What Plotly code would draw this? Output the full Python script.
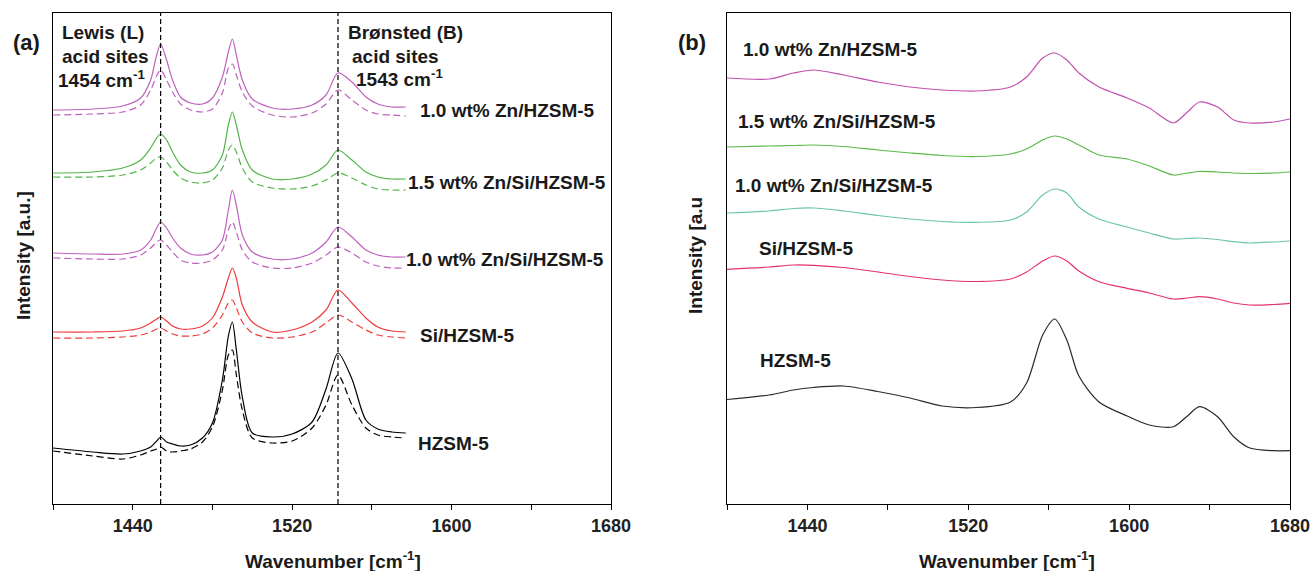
import plotly.graph_objects as go

W, H = 1312, 571
PLOT_TOP, PLOT_BOTTOM = 13, 504

# ---------------- Panel (a) data ----------------
wn_a = [1400, 1420, 1435, 1444, 1449, 1452, 1454, 1457, 1460, 1464, 1469, 1475, 1480, 1485, 1488,
        1490, 1492, 1495, 1500, 1510, 1520, 1530, 1537, 1543, 1550, 1557, 1563, 1570, 1577]
samples_a = ["1.0 wt% Zn/HZSM-5", "1.5 wt% Zn/Si/HZSM-5", "1.0 wt% Zn/Si/HZSM-5", "Si/HZSM-5", "HZSM-5"]

a_zn10_solid = [394, 395, 398, 406, 424, 449, 460, 444, 424, 407, 401, 400, 406, 427, 452,
                465, 449, 424, 405, 396, 395, 399, 409, 431, 422, 407, 400, 397, 397]
a_zn10_dash = [389, 390, 392, 399, 414, 428, 434, 424, 412, 400, 394, 392, 395, 411, 436,
               440, 429, 412, 398, 389, 387, 391, 400, 414, 404, 394, 390, 389, 388]
a_zn15si_solid = [331, 332, 336, 344, 356, 366, 370, 364, 352, 339, 332, 331, 334, 349, 379,
                  392, 379, 354, 334, 325, 325, 330, 339, 354, 344, 332, 327, 325, 325]
a_zn15si_dash = [327, 327, 329, 334, 341, 346, 347, 342, 334, 326, 322, 321, 324, 336, 354,
                 359, 352, 336, 322, 316, 315, 318, 324, 331, 326, 319, 315, 314, 314]
a_zn10si_solid = [251, 250, 250, 254, 264, 276, 282, 276, 266, 256, 250, 249, 252, 264, 294,
                  314, 299, 269, 252, 245, 245, 251, 262, 277, 267, 254, 249, 247, 247]
a_zn10si_dash = [246, 245, 245, 249, 256, 262, 264, 259, 252, 244, 241, 241, 244, 254, 274,
                 282, 272, 254, 242, 236, 236, 241, 249, 257, 251, 242, 238, 236, 236]
a_si_solid = [172, 172, 173, 176, 181, 185, 187, 183, 178, 175, 175, 178, 186, 207, 226,
              236, 226, 199, 182, 172, 174, 182, 194, 214, 201, 186, 177, 173, 172]
a_si_dash = [166, 166, 167, 169, 172, 175, 176, 173, 170, 168, 168, 170, 176, 189, 201,
             204, 196, 182, 171, 166, 167, 172, 181, 189, 182, 174, 169, 167, 166]
a_h_solid = [56, 52, 50, 53, 57, 63, 67, 62, 60, 58, 59, 66, 81, 124, 168,
             182, 154, 107, 71, 67, 70, 82, 115, 151, 125, 84, 75, 72, 71]
a_h_dash = [53, 48, 45, 49, 53, 55, 57, 53, 52, 53, 55, 62, 77, 114, 149,
            154, 129, 94, 66, 61, 63, 76, 99, 129, 99, 76, 69, 67, 66]

acid_site_positions = [1454, 1543]

# ---------------- Panel (b) data ----------------
wn_b = [1400, 1421, 1433, 1443, 1458, 1475, 1491, 1507, 1524, 1541, 1549, 1557, 1563,
        1569, 1575, 1585, 1599, 1610, 1622, 1629, 1635, 1644, 1652, 1660, 1672, 1680]
samples_b = ["1.0 wt% Zn/HZSM-5", "1.5 wt% Zn/Si/HZSM-5", "1.0 wt% Zn/Si/HZSM-5", "Si/HZSM-5", "HZSM-5"]
b_zn10 = [426, 425, 431, 434, 429, 422, 417, 414, 413, 417, 427, 446, 451,
          444, 431, 417, 406, 396, 381, 392, 402, 397, 384, 381, 382, 385]
b_zn15si = [357, 358, 358.5, 359, 357.5, 354, 351, 348.5, 347.5, 350, 355, 364, 368,
            365, 359, 349, 345, 338, 329, 331, 332.5, 332, 331, 330.5, 331, 332]
b_zn10si = [291, 293, 295.5, 296, 293, 288.5, 285, 282.5, 281.7, 284, 292, 309, 315,
            311, 297, 285, 277, 271, 265, 265.5, 266, 264.5, 262.3, 261, 262, 263]
b_si = [234.7, 237, 239, 238.7, 236.5, 232, 227.5, 224, 222.5, 225, 232, 243, 248,
        243, 233, 222.3, 215.7, 211, 205, 206, 207.3, 205, 201, 199, 199.5, 200.7]
b_h = [104.5, 109, 114, 116.5, 118, 112.5, 106, 98, 96.5, 102, 121, 169, 185,
       164, 128, 102, 88, 79, 77.3, 88, 97.3, 87.3, 67.3, 56, 53.3, 53.3]

colors_a = ["#BE62BE", "#52B548", "#BE62BE", "#EE3B3B", "#000000"]
colors_b = ["#C24FAE", "#5BBA4A", "#6CC6A6", "#E5336A", "#2A2A2A"]

FONT = "Liberation Sans, Arial, Helvetica, sans-serif"


def px(x):
    return x / W


def py(y):
    return (PLOT_BOTTOM - y) / (PLOT_BOTTOM - PLOT_TOP)


fig = go.Figure()

solids_a = [a_zn10_solid, a_zn15si_solid, a_zn10si_solid, a_si_solid, a_h_solid]
dashes_a = [a_zn10_dash, a_zn15si_dash, a_zn10si_dash, a_si_dash, a_h_dash]
for name, ys, yd, c in zip(samples_a, solids_a, dashes_a, colors_a):
    fig.add_trace(go.Scatter(x=wn_a, y=yd, mode="lines", name=name + " (dashed)",
                             line=dict(color=c, width=1.2, dash="7px,4px", shape="spline", smoothing=0.8),
                             xaxis="x", yaxis="y", showlegend=False, hoverinfo="skip"))
    fig.add_trace(go.Scatter(x=wn_a, y=ys, mode="lines", name=name,
                             line=dict(color=c, width=1.2, shape="spline", smoothing=0.8),
                             xaxis="x", yaxis="y", showlegend=False))

series_b = [b_zn10, b_zn15si, b_zn10si, b_si, b_h]
for name, ys, c in zip(samples_b, series_b, colors_b):
    fig.add_trace(go.Scatter(x=wn_b, y=ys, mode="lines", name=name,
                             line=dict(color=c, width=1.2, shape="spline", smoothing=0.8),
                             xaxis="x2", yaxis="y2", showlegend=False))

for xv in acid_site_positions:
    fig.add_shape(type="line", xref="x", yref="y domain", x0=xv, x1=xv, y0=0, y1=1,
                  line=dict(color="black", width=1.2, dash="5px,3px"))

xaxis_common = dict(range=[1400, 1680], tickvals=[1440, 1520, 1600, 1680],
                    ticks="outside", ticklen=5, tickwidth=1, tickcolor="black",
                    minor=dict(tickvals=[1400, 1480, 1560, 1640], ticks="outside", ticklen=5,
                               tickwidth=1, tickcolor="black"),
                    showline=True, linecolor="black", linewidth=1, mirror=True,
                    showgrid=False, zeroline=False, automargin=False,
                    tickfont=dict(family=FONT, size=18, color="#222", weight="bold"))
yaxis_common = dict(range=[0, PLOT_BOTTOM - PLOT_TOP], domain=[0, 1], showticklabels=False, ticks="",
                    showline=True, linecolor="black", linewidth=1, mirror=True,
                    showgrid=False, zeroline=False, automargin=False)

fig.update_layout(
    width=W, height=H, autosize=False,
    margin=dict(l=0, r=0, t=PLOT_TOP, b=H - PLOT_BOTTOM, pad=0, autoexpand=False),
    paper_bgcolor="white", plot_bgcolor="white",
    showlegend=False,
    xaxis=dict(domain=[px(53), px(611)], anchor="y", **xaxis_common),
    yaxis=dict(anchor="x", **yaxis_common),
    xaxis2=dict(domain=[px(727), px(1290)], anchor="y2", **xaxis_common),
    yaxis2=dict(anchor="x2", **yaxis_common),
)

def label(text, x, y, size=19, xanchor="left", angle=0, color="#1a1a1a"):
    fig.add_annotation(text=text, xref="paper", yref="paper", x=px(x), y=py(y),
                       xanchor=xanchor, yanchor="middle", showarrow=False, textangle=angle,
                       font=dict(family=FONT, size=size, color=color, weight="bold"))

# Panel (a) labels
label_pos_a = [(418, 110), (406, 183), (404, 259), (418, 335), (416, 443)]
for name, (x, y) in zip(samples_a, label_pos_a):
    label(name, x, y)
label("Lewis (L)", 60, 33)
label("acid sites", 60, 57)
label("1454 cm<sup>-1</sup>", 56, 79)
label("Brønsted (B)", 346, 33)
label("acid sites", 350, 57)
label("1543 cm<sup>-1</sup>", 354, 78)
label("(a)", 26, 42, size=22, xanchor="center")
label("Intensity [a.u.]", 23, 256, xanchor="center", angle=-90)
label("Wavenumber [cm<sup>-1</sup>]", 333, 560, xanchor="center")

# Panel (b) labels
label_pos_b = [(741, 50), (736, 122), (733, 185), (757, 248), (758, 360)]
for name, (x, y) in zip(samples_b, label_pos_b):
    label(name, x, y)
label("(b)", 692, 42, size=22, xanchor="center")
label("Intensity [a.u", 695, 256, xanchor="center", angle=-90)
label("Wavenumber [cm<sup>-1</sup>]", 1007, 560, xanchor="center")

fig.write_html("out.html", config={"displayModeBar": False},
               post_script="document.body.style.margin='0';document.body.style.overflow='hidden';")
